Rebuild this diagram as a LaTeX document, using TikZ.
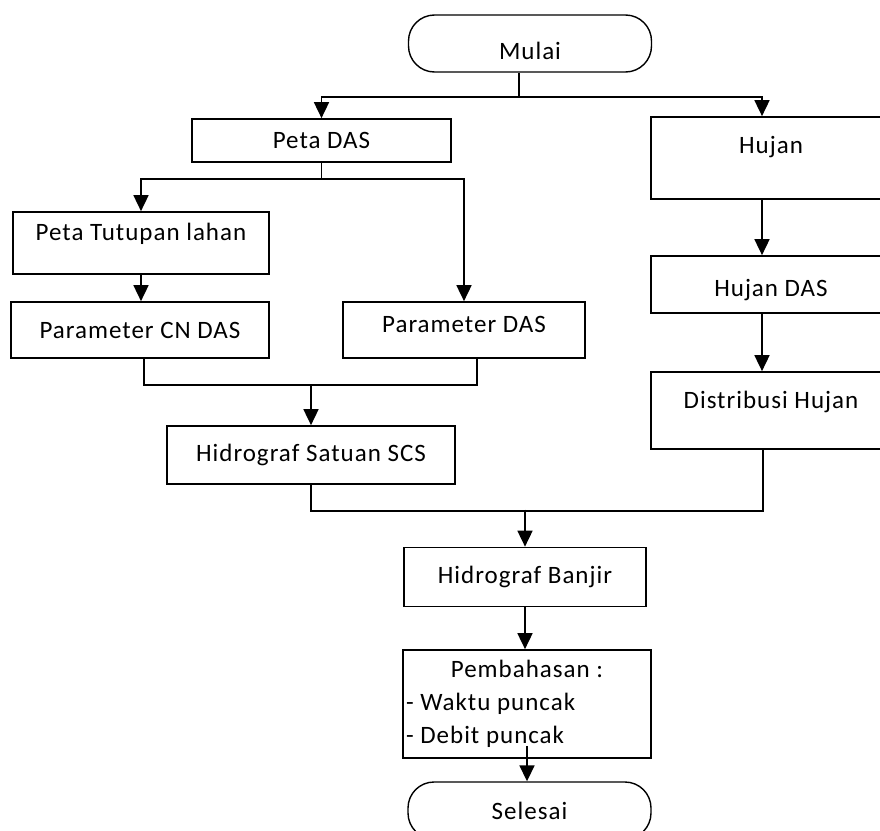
\documentclass[tikz,border=0pt]{standalone}
\usepackage{fontspec}
\setmainfont{Carlito}[LetterSpace=4]
\usepackage{tikz}
\usetikzlibrary{arrows.meta}

\begin{document}
\begin{tikzpicture}[x=1pt, y=-1pt,
  every node/.style={font=\fontsize{25}{33}\selectfont},
  box/.style={draw, rectangle, line width=1.7pt, inner sep=3pt},
  term/.style={draw, rectangle, rounded corners=26pt, line width=1.4pt, minimum width=243pt, minimum height=57pt},
  line/.style={line width=1.7pt},
  arr/.style={line width=1.7pt, -{Triangle[width=15pt,length=16pt]}}]
  \useasboundingbox (0,0) rectangle (880,830);
  \clip (0,0) rectangle (880,830);

  % Start
  \node[term, text height=32pt] (mulai) at (530,43.5) {Mulai};

  % Left branch
  \node[box, minimum width=259pt, minimum height=43pt] (peta) at (321.5,140.5) {Peta DAS};
  \node[box, minimum width=256pt, minimum height=62pt, text depth=23pt] (tutupan) at (141,243) {Peta Tutupan lahan};
  \node[box, minimum width=258pt, minimum height=56pt] (cn) at (140,330) {Parameter CN DAS};
  \node[box, minimum width=242pt, minimum height=56pt, text depth=11pt] (pdas) at (464,330) {Parameter DAS};
  \node[box, minimum width=288pt, minimum height=58pt] (hss) at (311,455) {Hidrograf Satuan SCS};

  % Right branch
  \node[box, minimum width=240pt, minimum height=82pt, text depth=27pt] (hujan) at (771,158) {Hujan};
  \node[box, minimum width=240pt, minimum height=57pt, text height=28pt] (hdas) at (771,284.5) {Hujan DAS};
  \node[box, minimum width=240pt, minimum height=77pt, text depth=21pt] (distr) at (771,410.5) {Distribusi Hujan};

  % Result
  \node[box, minimum width=248pt, minimum height=108pt, align=center] (bahas) at (527,704)
    {\makebox[242pt]{Pembahasan :}\\\makebox[242pt][l]{- Waktu puncak}\\\makebox[242pt][l]{- Debit puncak}};
  \node[box, minimum width=242pt, minimum height=59pt] (banjir) at (525,577) {Hidrograf Banjir};

  % End
  \node[term] (selesai) at (529.5,810.5) {Selesai};

  % Connections
  \draw[line] ([xshift=-11pt]mulai.south) -- ++(0,24) coordinate (cab1);
  \draw[arr] (cab1) -| (peta);
  \draw[arr] (cab1) -| ([xshift=-9pt]hujan.north);
  \draw[line] (peta.south) -- ++(0,16) coordinate (cab2);
  \draw[arr] (cab2) -| (tutupan);
  \draw[arr] (cab2) -| (pdas);
  \draw[arr] (tutupan.south) -- (tutupan.south |- cn.north);
  \draw[line] ([xshift=4pt]cn.south) -- ++(0,26) -| ([xshift=13pt]pdas.south);
  \draw[arr] ([yshift=39pt]hss.north) -- (hss.north);
  \draw[arr] ([xshift=-9pt]hujan.south) -- ([xshift=-9pt]hdas.north);
  \draw[arr] ([xshift=-9pt]hdas.south) -- ([xshift=-9pt]distr.north);
  \draw[line] (hss.south) -- ++(0,26) -| ([xshift=-8pt]distr.south);
  \draw[arr] ([yshift=37pt]banjir.north) -- (banjir.north);
  \draw[arr] (banjir.south) -- (banjir.south |- bahas.north);
  \draw[arr] ([yshift=13pt]bahas.south) -- (bahas.south |- selesai.north);
\end{tikzpicture}
\end{document}
